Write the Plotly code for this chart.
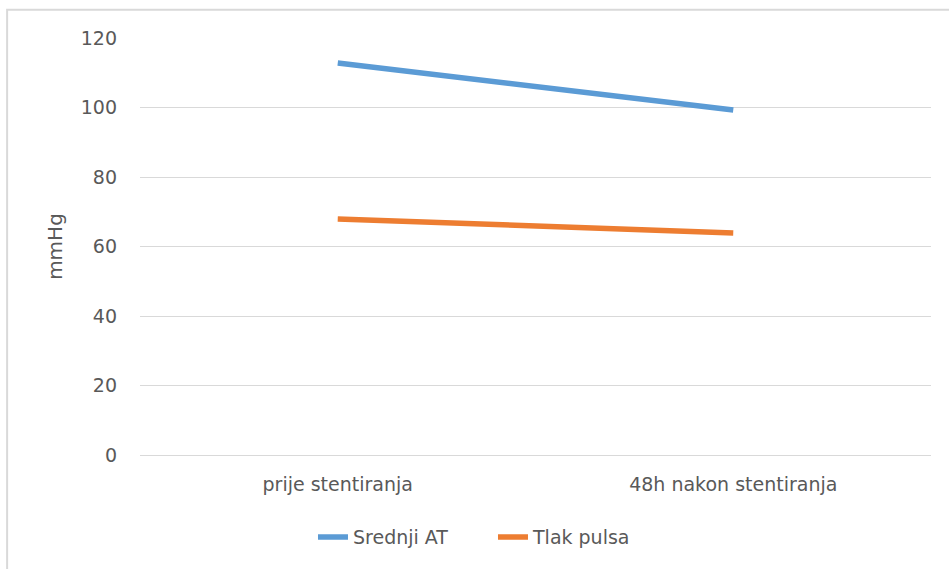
import plotly.graph_objects as go

categories = ["prije stentiranja", "48h nakon stentiranja"]
srednji_at = [112.8, 99.3]
tlak_pulsa = [67.9, 63.9]
series_names = ["Srednji AT", "Tlak pulsa"]
colors = ["#5B9BD5", "#ED7D31"]

FONT = "DejaVu Sans, Arial, sans-serif"
GREY = "#595959"

fig = go.Figure()
for name, vals, c in zip(series_names, [srednji_at, tlak_pulsa], colors):
    fig.add_trace(go.Scatter(x=categories, y=vals, mode="lines", name=name,
                             line=dict(color=c, width=5.5)))

fig.update_layout(
    width=949, height=569,
    margin=dict(l=140, r=18, t=38, b=114),
    paper_bgcolor="white", plot_bgcolor="white",
    font=dict(family=FONT, size=19, color=GREY),
    showlegend=True,
    legend=dict(orientation="h", x=0.2187, xanchor="left", y=-0.197, yanchor="middle",
                font=dict(size=19, color=GREY), entrywidth=135, entrywidthmode="pixels"),
    xaxis=dict(type="category", range=[-0.5, 1.5], showgrid=False, showline=False,
               ticks="", ticklabelstandoff=16, tickfont=dict(size=19, color=GREY)),
    yaxis=dict(range=[0, 120], dtick=20, showgrid=True, gridcolor="#D9D9D9", gridwidth=1,
               zeroline=True, zerolinecolor="#D9D9D9", zerolinewidth=1, showline=False,
               ticks="", ticklabelstandoff=22, tickfont=dict(size=19, color=GREY),
               title=dict(text="mmHg", font=dict(size=20, color=GREY), standoff=12)),
    shapes=[
        dict(type="rect", xref="paper", yref="paper", x0=-0.168, x1=1.05, y0=-0.35, y1=1.068,
             fillcolor="rgba(0,0,0,0)", layer="below",
             line=dict(color="#D9D9D9", width=2)),
    ],
)

fig.write_html("out.html", config={"displayModeBar": False},
               post_script="document.body.style.margin='0';")
